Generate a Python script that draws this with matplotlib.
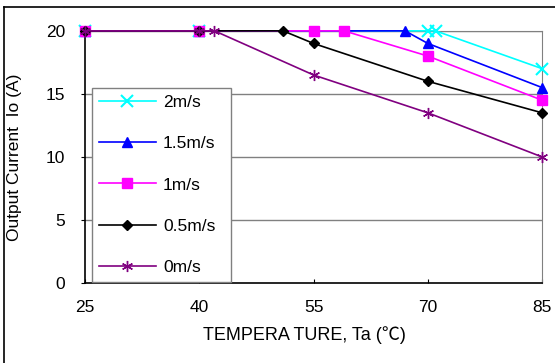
import matplotlib.pyplot as plt
from matplotlib.lines import Line2D

plt.rcParams['font.family'] = ['Liberation Sans', 'Noto Sans CJK SC', 'DejaVu Sans']

# data
labels = ["2m/s", "1.5m/s", "1m/s", "0.5m/s", "0m/s"]
temp_2 = [25, 40, 70, 71, 85]
cur_2 = [20, 20, 20, 20, 17]
temp_15 = [25, 40, 67, 70, 85]
cur_15 = [20, 20, 20, 19, 15.5]
temp_1 = [25, 40, 55, 59, 70, 85]
cur_1 = [20, 20, 20, 20, 18, 14.5]
temp_05 = [25, 40, 51, 55, 70, 85]
cur_05 = [20, 20, 20, 19, 16, 13.5]
temp_0 = [25, 40, 42, 55, 70, 85]
cur_0 = [20, 20, 20, 16.5, 13.5, 10]
x_ticks = [25, 40, 55, 70, 85]
y_ticks = [0, 5, 10, 15, 20]

fig = plt.figure(figsize=(5.55, 3.63), dpi=100)
ax = fig.add_axes([0.153, 0.220, 0.824, 0.695])

# outer chart frame (top and left edges only visible)
fig.add_artist(Line2D([4/555, 1], [1 - 7/363, 1 - 7/363], color="black", lw=1.2, transform=fig.transFigure))
fig.add_artist(Line2D([4/555, 4/555], [0, 1 - 7/363], color="black", lw=1.2, transform=fig.transFigure))

for yv in [5, 10, 15, 20]:
    ax.axhline(yv, color="#808080", lw=1.0, zorder=1)

ax.plot(temp_2, cur_2, color="#00FFFF", marker="x", ms=8, mew=1.5, lw=1.2, label=labels[0], clip_on=False, zorder=3)
ax.plot(temp_15, cur_15, color="#0000FF", marker="^", ms=7.5, lw=1.2, label=labels[1], clip_on=False, zorder=3)
ax.plot(temp_1, cur_1, color="#FF00FF", marker="s", ms=7, lw=1.2, label=labels[2], clip_on=False, zorder=3)
ax.plot(temp_05, cur_05, color="black", marker="D", ms=5.5, lw=1.2, label=labels[3], clip_on=False, zorder=3)
ax.plot(temp_0, cur_0, color="#800080", marker=(6, 2, 0), ms=8, mew=1.0, lw=1.2, label=labels[4], clip_on=False, zorder=3)

ax.set_xlim(25, 85)
ax.set_ylim(0, 20)
ax.set_xticks(x_ticks)
ax.set_yticks(y_ticks)
ax.tick_params(axis="x", direction="in", length=3, pad=12, labelsize=12.5)
ax.tick_params(axis="y", direction="out", length=3, pad=11, labelsize=12.5)

for side in ["top", "right"]:
    ax.spines[side].set_color("#808080")
for side in ["left", "bottom"]:
    ax.spines[side].set_color("black")
    ax.spines[side].set_linewidth(1.2)

ax.set_xlabel("TEMPERA TURE, Ta (℃)", fontsize=13)
ax.xaxis.set_label_coords(0.48, -0.17)
ax.set_ylabel("Output Current  Io (A)", fontsize=12.5)
ax.yaxis.set_label_coords(-0.137, 0.5)

leg = ax.legend(loc="lower left", bbox_to_anchor=(0.015, 0.005, 0.305, 0.774), mode="expand",
                borderaxespad=0, fontsize=12.5, handlelength=3.3, labelspacing=1.5,
                handletextpad=0.4, fancybox=False, framealpha=1, edgecolor="#808080")
leg.get_frame().set_linewidth(1.0)
leg.set_zorder(4)

plt.savefig("out.png")
